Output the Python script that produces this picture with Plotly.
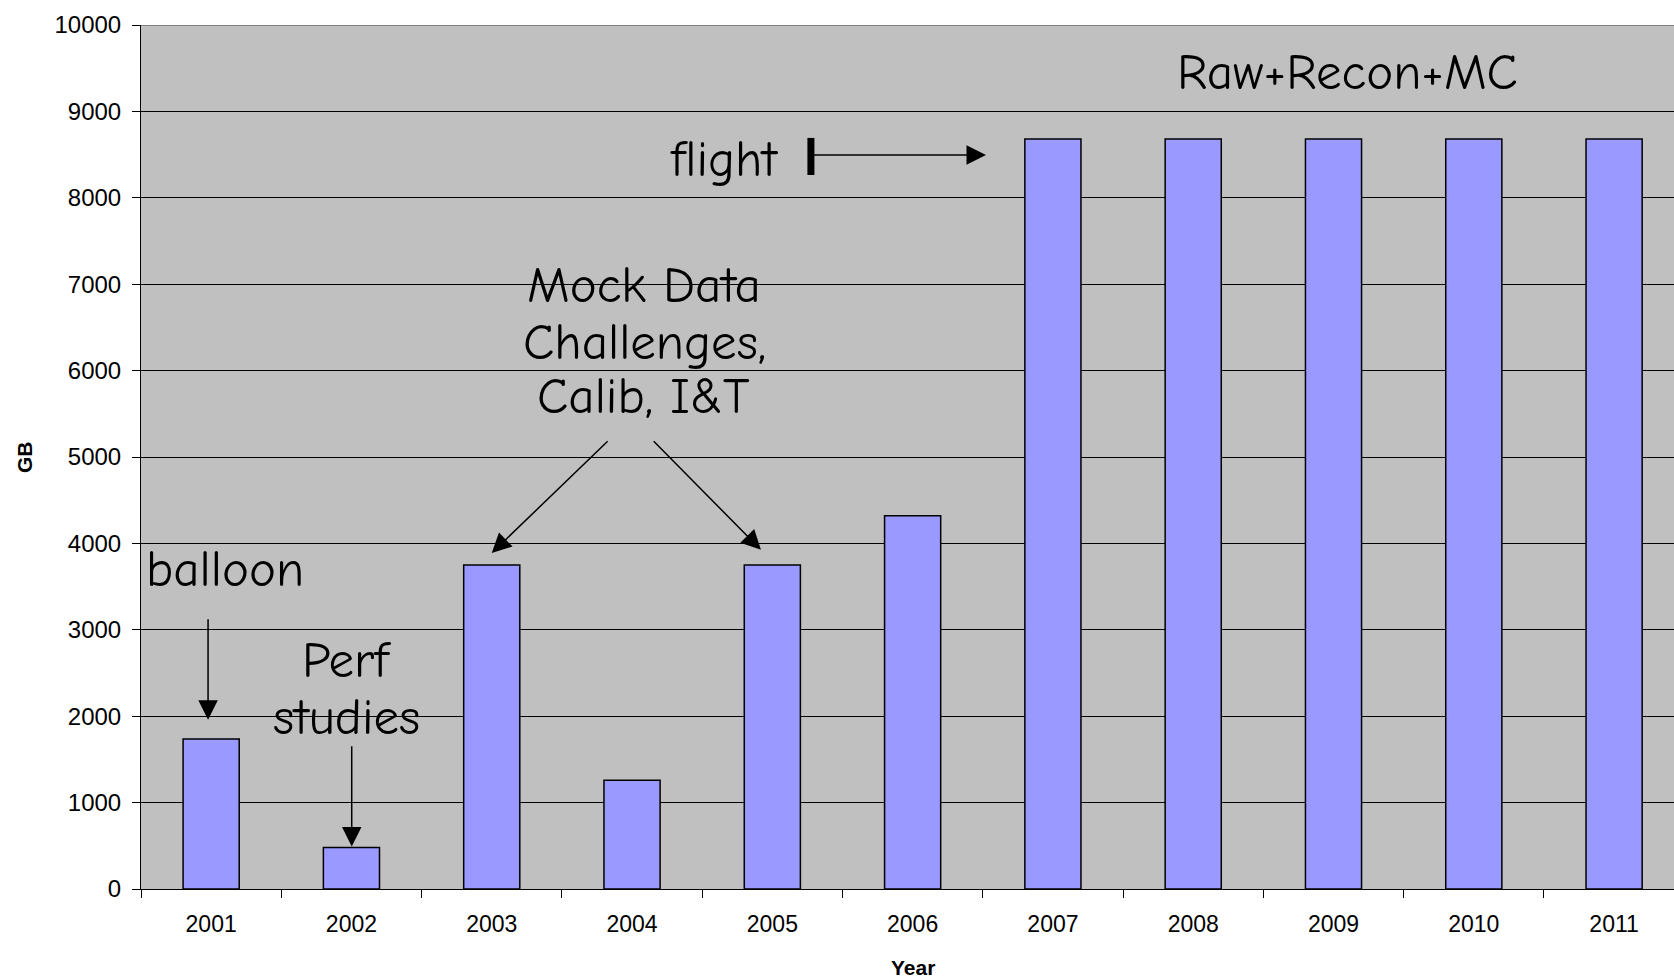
import plotly.graph_objects as go

years = ["2001", "2002", "2003", "2004", "2005", "2006", "2007", "2008", "2009", "2010", "2011"]
gb = [1735, 480, 3750, 1260, 3750, 4320, 8680, 8680, 8680, 8680, 8680]
y_ticks = [0, 1000, 2000, 3000, 4000, 5000, 6000, 7000, 8000, 9000, 10000]
y_tick_text = [str(v) for v in y_ticks]

hand = "Comic Sans MS, Comic Neue, Open Sans, sans-serif"
arial = "Arial, Liberation Sans, sans-serif"

fig = go.Figure()
fig.add_trace(go.Bar(
    x=years, y=gb,
    marker=dict(color="#9999FF", line=dict(color="black", width=1.5)),
    width=0.4,
))

fig.update_layout(
    width=1674, height=980,
    margin=dict(l=141, r=0, t=25, b=91),
    paper_bgcolor="white",
    plot_bgcolor="#C0C0C0",
    showlegend=False,
    font=dict(family=arial, size=24, color="black"),
)
fig.update_xaxes(
    type="category", range=[-0.5, 10.427],
    showline=True, linecolor="black", linewidth=1,
    ticks="outside", ticklen=8, tickcolor="black", tickwidth=1,
    tickson="boundaries", showgrid=False, ticklabelstandoff=14,
    tickfont=dict(family=arial, size=23),
)
fig.update_yaxes(
    range=[0, 10000], tickvals=y_ticks, ticktext=y_tick_text,
    showline=True, linecolor="black", linewidth=1,
    ticks="outside", ticklen=8, tickcolor="black", tickwidth=1,
    showgrid=True, gridcolor="black", gridwidth=1,
    zeroline=False, ticklabelstandoff=6,
    tickfont=dict(family=arial, size=24),
)

# top border of plot area
fig.add_shape(type="line", xref="paper", yref="y", x0=0, x1=1, y0=10000, y1=10000,
              line=dict(color="#808080", width=2), layer="above")

# axis titles
fig.add_annotation(text="<b>GB</b>", xref="paper", yref="paper", x=-0.0763, y=0.5,
                   xanchor="center", yanchor="middle", textangle=-90, showarrow=False,
                   font=dict(family=arial, size=21))
fig.add_annotation(text="<b>Year</b>", xref="x", yref="paper", x=5, y=-0.091,
                   xanchor="center", yanchor="middle", showarrow=False,
                   font=dict(family=arial, size=21))

# text annotations (one per line)
texts = [
    ("Raw+Recon+MC", 8.1, 9445),
    ("flight", 3.655, 8438),
    ("balloon", 0.099, 3694),
    ("Perf", 0.962, 2642),
    ("studies", 0.968, 1990),
    ("Mock Data", 3.085, 6980),
    ("Challenges,", 3.092, 6321),
    ("Calib, I&T", 3.085, 5696),
]
for t, x, y in texts:
    fig.add_annotation(text=t, x=x, y=y, xref="x", yref="y", showarrow=False,
                       xanchor="center", yanchor="middle",
                       font=dict(family=hand, size=51, color="black"))

# arrows: (tail_x, tail_y, tip_x, tip_y)
arrows = [
    (-0.022, 3139, -0.022, 1959),
    (1.002, 1670, 1.002, 493),
    (2.837, 5199, 2.0, 3888),
    (3.144, 5199, 3.919, 3926),
    (4.275, 8496, 5.523, 8496),
]
for ax, ay, x, y in arrows:
    fig.add_annotation(text="", x=x, y=y, ax=ax, ay=ay, xref="x", yref="y",
                       axref="x", ayref="y", showarrow=True, arrowhead=2,
                       arrowsize=2.6, arrowwidth=1.5, arrowcolor="black", standoff=0)

# flight start bar
fig.add_shape(type="line", xref="x", yref="y", x0=4.275, x1=4.275, y0=8264, y1=8693,
              line=dict(color="black", width=7), layer="above")

fig.write_html("out.html")
